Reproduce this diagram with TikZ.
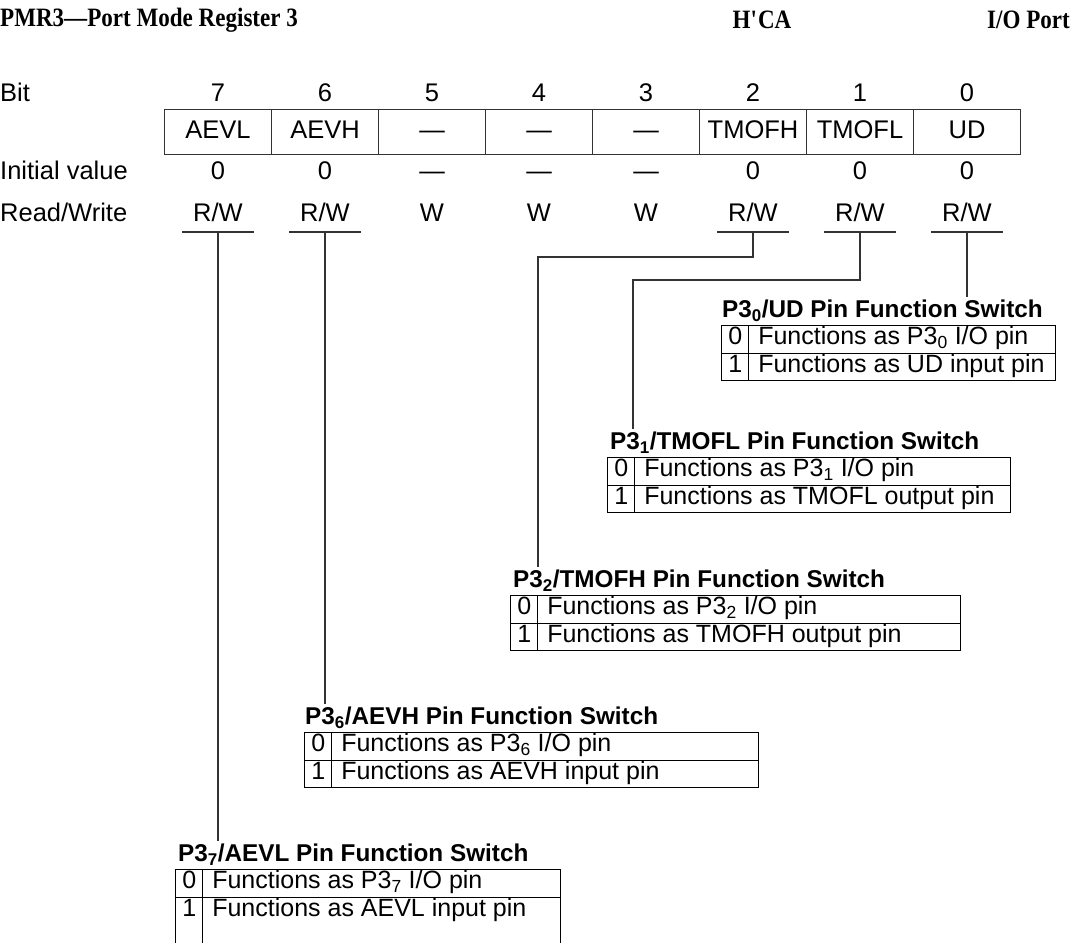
\documentclass[tikz,border=0pt]{standalone}
\usepackage{fontspec}
\setmainfont{Liberation Sans}
\newfontfamily\headfont[FakeStretch=0.87]{Liberation Serif}
\usepackage{array}
\usetikzlibrary{positioning}
\definecolor{linec}{gray}{0.2}
\setlength{\arrayrulewidth}{1.1pt}
\setlength{\tabcolsep}{6pt}
\renewcommand{\arraystretch}{0.88}
\newcommand{\txt}{\fontsize{25.5}{30.6}\selectfont}
\newcommand{\tabtxt}{\fontsize{25}{30}\selectfont}
\tikzset{
  lbl/.style={font=\txt,inner sep=0pt,text height=18pt,text depth=5pt},
  hdr/.style={font=\headfont\bfseries\fontsize{26.5}{30}\selectfont,inner sep=0pt},
  cell/.style={draw=linec,line width=1.1pt,font=\txt,text height=18pt,text depth=5pt,
    minimum width=107pt,minimum height=45pt,inner sep=0pt},
  ttl/.style={font=\fontsize{24.3}{29}\selectfont\bfseries,inner sep=0pt,outer ysep=3pt,anchor=west},
  tbl/.style={font=\tabtxt,inner sep=0pt,anchor=north west},
  conn/.style={draw=linec,line width=1.1pt}
}

\begin{document}
\begin{tikzpicture}[x=1pt,y=-1pt]
\useasboundingbox (0,0) rectangle (1075,942);
\clip (0,0) rectangle (1075,942);
% header line
\node[hdr,anchor=west] (reg) at (0,20) {PMR3\textemdash Port Mode Register 3};
\node[hdr] (addr) at (762,20) {H\textquotesingle CA};
\node[hdr,anchor=east] (mod) at (1070,20) {I/O Port};

% register rows
\node[lbl,anchor=west] (lbit) at (0,95) {Bit};
\node[lbl,anchor=west] (linit) at (0,173) {Initial value};
\node[lbl,anchor=west] (lrw) at (0,215) {Read/Write};
\foreach \b/\nm/\iv/\rw in {7/AEVL/0/{R/W},6/AEVH/0/{R/W},5/\textemdash/\textemdash/W,4/\textemdash/\textemdash/W,
  3/\textemdash/\textemdash/W,2/TMOFH/0/{R/W},1/TMOFL/0/{R/W},0/UD/0/{R/W}}{
  \node[lbl] (b\b) at ({218+107*(7-\b)},95) {\b};
  \node[cell] (r\b) at ({218+107*(7-\b)},132) {\nm};
  \node[lbl] (i\b) at ({218+107*(7-\b)},173) {\iv};
  \node[lbl] (w\b) at ({218+107*(7-\b)},215) {\rw};
  \coordinate (u\b) at ({218+107*(7-\b)},232);
}
\foreach \b in {7,6,2,1,0}
  \draw[conn] ([xshift=-36pt]u\b) -- ([xshift=36pt]u\b);

% pin function switches
\node[ttl] (t0) at (722,311) {P3\textsubscript{0}/UD Pin Function Switch};
\node[tbl] (s0) at (721,325) {\begin{tabular}{|c|>{\hspace{3pt}}w{l}{294pt}|}\hline
  0 & Functions as P3\textsubscript{0} I/O pin\\\hline
  1 & Functions as UD input pin\\\hline\end{tabular}};
\node[ttl] (t1) at (610,443) {P3\textsubscript{1}/TMOFL Pin Function Switch};
\node[tbl] (s1) at (607,457) {\begin{tabular}{|c|>{\hspace{3pt}}w{l}{363pt}|}\hline
  0 & Functions as P3\textsubscript{1} I/O pin\\\hline
  1 & Functions as TMOFL output pin\\\hline\end{tabular}};
\node[ttl] (t2) at (513,581) {P3\textsubscript{2}/TMOFH Pin Function Switch};
\node[tbl] (s2) at (510,595) {\begin{tabular}{|c|>{\hspace{3pt}}w{l}{410pt}|}\hline
  0 & Functions as P3\textsubscript{2} I/O pin\\\hline
  1 & Functions as TMOFH output pin\\\hline\end{tabular}};
\node[ttl] (t6) at (305,718) {P3\textsubscript{6}/AEVH Pin Function Switch};
\node[tbl] (s6) at (304,732) {\begin{tabular}{|c|>{\hspace{3pt}}w{l}{414pt}|}\hline
  0 & Functions as P3\textsubscript{6} I/O pin\\\hline
  1 & Functions as AEVH input pin\\\hline\end{tabular}};
\node[ttl] (t7) at (178,855) {P3\textsubscript{7}/AEVL Pin Function Switch};
\node[tbl] (s7) at (175,869) {\begin{tabular}{|c|>{\hspace{3pt}}w{l}{345pt}|}\hline
  0 & Functions as P3\textsubscript{7} I/O pin\\\hline
  1 & Functions as AEVL input pin\\[30pt]\end{tabular}};

% connectors from the bits
\coordinate (k1) at (633,280);
\coordinate (k2) at (538,257);
\draw[conn] (u0) -- (u0 |- t0.north);
\draw[conn] (u1) |- (k1) -- (k1 |- t1.north);
\draw[conn] (u2) |- (k2) -- (k2 |- t2.north);
\draw[conn] (u6) -- (u6 |- t6.north);
\draw[conn] (u7) -- (u7 |- t7.north);
\end{tikzpicture}
\end{document}
